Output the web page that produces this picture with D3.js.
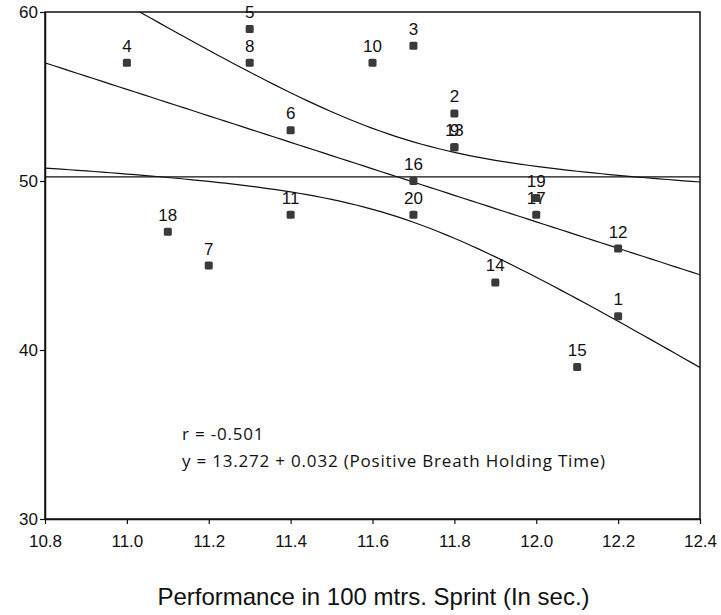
<!DOCTYPE html>
<head>
<script src="https://d3js.org/d3.v7.min.js"></script>
<meta charset="utf-8">
<style>
body { margin: 0; background: #fff; }
text { font-family: "Liberation Sans", Arial, sans-serif; fill: #111; }
.note { font-family: "Open Sans", Lato, sans-serif; }
</style>
</head>
<body>
<svg id="chart"></svg>
<script>

// chart data
var subjects = [1, 2, 3, 4, 5, 6, 7, 8, 9, 10, 11, 12, 13, 14, 15, 16, 17, 18, 19, 20];
var sprint = [12.2, 11.8, 11.7, 11.0, 11.3, 11.4, 11.2, 11.3, 11.8, 11.6, 11.4, 12.2, 11.8, 11.9, 12.1, 11.7, 12.0, 11.1, 12.0, 11.7];
var breath = [42, 54, 58, 57, 59, 53, 45, 57, 52, 57, 48, 46, 52, 44, 39, 50, 48, 47, 49, 48];
var xTicks = [10.8, 11.0, 11.2, 11.4, 11.6, 11.8, 12.0, 12.2, 12.4];
var yTicks = [30, 40, 50, 60];
var noteLines = ["r = -0.501", "y = 13.272 + 0.032 (Positive Breath Holding Time)"];
var xTitle = "Performance in 100 mtrs. Sprint (In sec.)";

var width = 721, height = 615;
var mLeft = 45, mRight = 700, mTop = 12, mBottom = 519;

var svg = d3.select("#chart").attr("width", width).attr("height", height);

var x = d3.scaleLinear().domain([10.8, 12.4]).range([mLeft, mRight]);
var y = d3.scaleLinear().domain([30, 60]).range([mBottom, mTop]);

// least squares fit + 95% band for the mean
var n = sprint.length;
var mx = d3.mean(sprint), my = d3.mean(breath);
var sxx = d3.sum(sprint, d => (d - mx) * (d - mx));
var sxy = d3.sum(sprint, (d, i) => (d - mx) * (breath[i] - my));
var slope = sxy / sxx, icpt = my - slope * mx;
var sse = d3.sum(sprint, (d, i) => Math.pow(breath[i] - (icpt + slope * d), 2));
var se = Math.sqrt(sse / (n - 2));
var tcrit = 2.101;

var grid = d3.range(0, 81).map(i => 10.8 + i * 1.6 / 80);
var fit = grid.map(v => [v, icpt + slope * v]);
var band = s => grid.map(v => [v, icpt + slope * v + s * tcrit * se * Math.sqrt(1 / n + (v - mx) * (v - mx) / sxx)]);

svg.append("clipPath").attr("id", "plotclip")
  .append("rect").attr("x", mLeft).attr("y", mTop).attr("width", mRight - mLeft).attr("height", mBottom - mTop);

var line = d3.line().x(d => x(d[0])).y(d => y(d[1]));
var lines = svg.append("g").attr("clip-path", "url(#plotclip)")
  .attr("fill", "none").attr("stroke", "#111").attr("stroke-width", 1.2);
lines.append("path").attr("d", line([[10.8, my], [12.4, my]]));
lines.append("path").attr("d", line(fit));
lines.append("path").attr("d", line(band(1)));
lines.append("path").attr("d", line(band(-1)));

// frame
svg.append("rect").attr("x", mLeft).attr("y", mTop).attr("width", mRight - mLeft).attr("height", mBottom - mTop)
  .attr("fill", "none").attr("stroke", "#111").attr("stroke-width", 1.5);

var xAxis = svg.append("g").attr("transform", "translate(0," + mBottom + ")")
  .call(d3.axisBottom(x).tickValues(xTicks).tickFormat(d3.format(".1f")).tickSize(5).tickSizeOuter(0));
var yAxis = svg.append("g").attr("transform", "translate(" + mLeft + ",0)")
  .call(d3.axisLeft(y).tickValues(yTicks).tickSize(5).tickSizeOuter(0));
[xAxis, yAxis].forEach(a => {
  a.select(".domain").attr("stroke", "#111").attr("stroke-width", 1.5);
  a.selectAll(".tick line").attr("stroke", "#111").attr("stroke-width", 1.2);
  a.selectAll(".tick text").style("font-family", "Liberation Sans, Arial, sans-serif").style("font-size", "17px").attr("fill", "#111");
});
xAxis.selectAll(".tick text").attr("dy", "1.2em");
yAxis.selectAll(".tick text").attr("x", -7);

// points
var pts = svg.append("g");
pts.selectAll("rect").data(subjects).join("rect")
  .attr("x", (d, i) => x(sprint[i]) - 4)
  .attr("y", (d, i) => y(breath[i]) - 4)
  .attr("width", 8).attr("height", 8).attr("rx", 1.5)
  .attr("fill", "#3a3a3a");
pts.selectAll("text").data(subjects).join("text")
  .attr("x", (d, i) => x(sprint[i]))
  .attr("y", (d, i) => y(breath[i]) - 11)
  .attr("text-anchor", "middle")
  .style("font-size", "17px")
  .text(d => d);

svg.selectAll("text.note").data(noteLines).join("text")
  .attr("class", "note")
  .attr("x", 182).attr("y", (d, i) => 440 + i * 27)
  .style("font-size", "17px")
  .style("letter-spacing", "0.8px")
  .text(d => d);

svg.append("text").attr("x", (mLeft + mRight) / 2 + 1).attr("y", 605)
  .attr("text-anchor", "middle").style("font-size", "24px")
  .text(xTitle);

</script>
</body>
